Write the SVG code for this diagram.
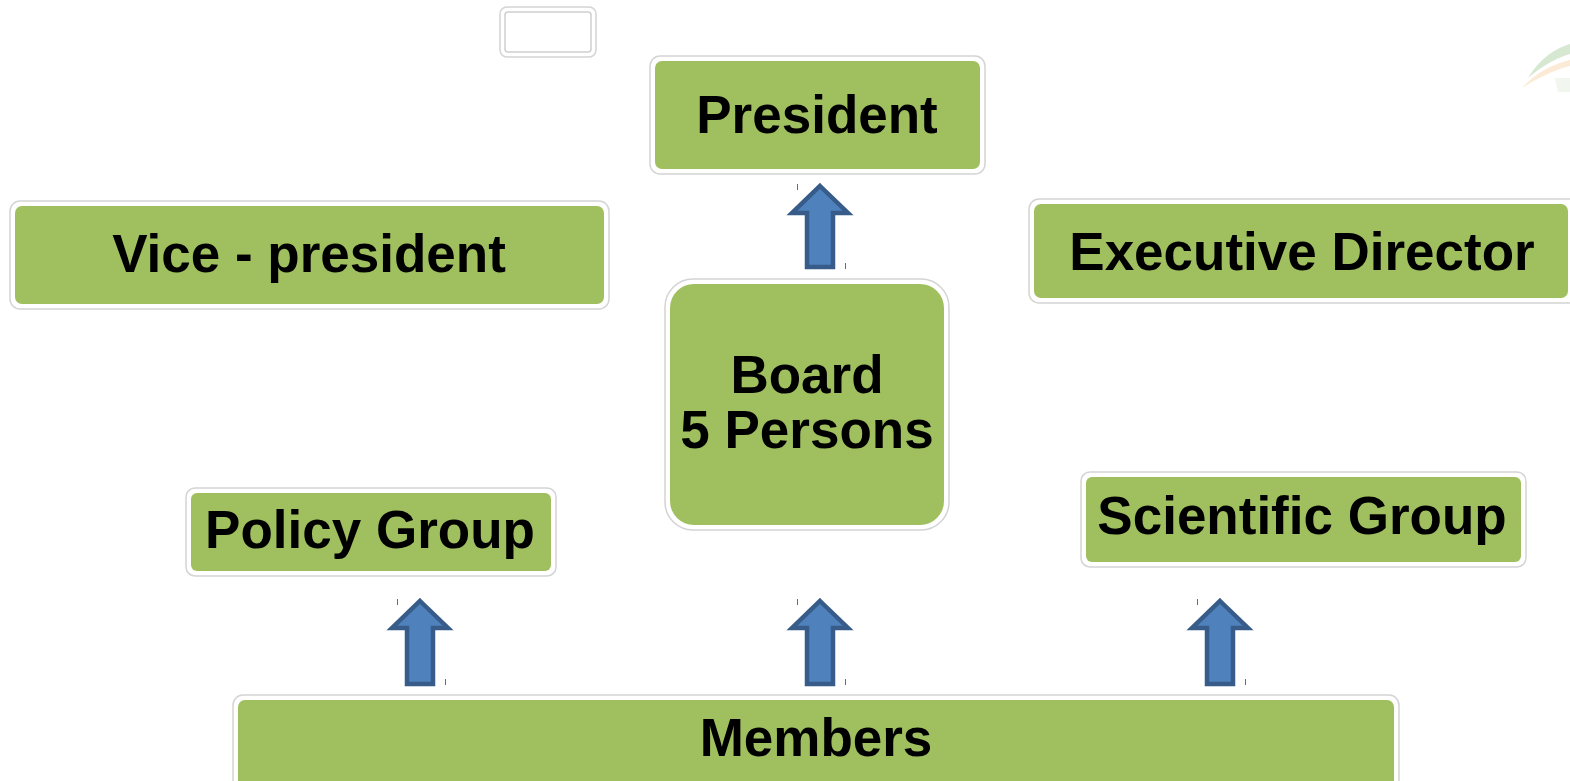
<svg xmlns="http://www.w3.org/2000/svg" width="1570" height="781" viewBox="0 0 1570 781">
<style>
.frame{fill:#ffffff;stroke:#d4d4d4;stroke-width:1.5}
.box{fill:#A0BF5E}
.lbl{font-family:"Liberation Sans",Arial,sans-serif;font-weight:bold;font-size:53px;fill:#000;text-anchor:middle}
.arrow{fill:#4F81BD;stroke:#375C89;stroke-width:4.5;stroke-linejoin:miter}
.tick{stroke:#5a6f86;stroke-width:1}
</style>
<rect width="1570" height="781" fill="#ffffff"/>
<g id="logo" opacity="0.35">
<path d="M1528,78 C1540,58 1556,48 1570,44 L1570,54 C1556,58 1542,66 1528,78 Z" fill="#8fbf7f"/>
<path d="M1522,88 C1536,72 1554,64 1570,60 L1570,66 C1554,70 1538,78 1522,88 Z" fill="#f6c68a"/>
<path d="M1555,78 L1570,78 L1570,92 L1558,92 Z" fill="#d9ead0"/>
</g>
<g id="blank-box">
<rect class="frame" x="500" y="7" width="96" height="50" rx="7"/>
<rect x="505" y="12" width="86" height="40" rx="3" fill="#fff" stroke="#cfcfcf" stroke-width="1.5"/>
</g>
<g id="president">
<rect class="frame" x="650" y="56" width="335" height="118" rx="10"/>
<rect class="box" x="655" y="61" width="325" height="108" rx="7"/>
<text class="lbl" x="817" y="133">President</text>
</g>
<g id="vice-president">
<rect class="frame" x="10" y="201" width="599" height="108" rx="10"/>
<rect class="box" x="15" y="206" width="589" height="98" rx="7"/>
<text class="lbl" x="309" y="272">Vice - president</text>
</g>
<g id="executive-director">
<rect class="frame" x="1029" y="199" width="550" height="104" rx="10"/>
<rect class="box" x="1034" y="204" width="534" height="94" rx="7"/>
<text class="lbl" x="1302" y="270">Executive Director</text>
</g>
<g id="board">
<rect class="frame" x="665" y="279" width="284" height="251" rx="28"/>
<rect class="box" x="670" y="284" width="274" height="241" rx="24"/>
<text class="lbl" x="807" y="393">Board</text>
<text class="lbl" x="807" y="448">5 Persons</text>
</g>
<g id="policy-group">
<rect class="frame" x="186" y="488" width="370" height="88" rx="9"/>
<rect class="box" x="191" y="493" width="360" height="78" rx="6"/>
<text class="lbl" x="370" y="548">Policy Group</text>
</g>
<g id="scientific-group">
<rect class="frame" x="1081" y="472" width="445" height="95" rx="9"/>
<rect class="box" x="1086" y="477" width="435" height="85" rx="6"/>
<text class="lbl" x="1302" y="534">Scientific Group</text>
</g>
<g id="members">
<rect class="frame" x="233" y="695" width="1166" height="100" rx="10"/>
<rect class="box" x="238" y="700" width="1156" height="90" rx="7"/>
<text class="lbl" x="816" y="756">Members</text>
</g>
<g id="connectors">
<path class="arrow" d="M820,186 L848,213 L833,213 L833,267 L807,267 L807,213 L792,213 Z"/>
<path class="arrow" d="M420,601 L448,628 L433,628 L433,684 L407,684 L407,628 L392,628 Z"/>
<path class="arrow" d="M820,601 L848,628 L833,628 L833,684 L807,684 L807,628 L792,628 Z"/>
<path class="arrow" d="M1220,601 L1248,628 L1233,628 L1233,684 L1207,684 L1207,628 L1192,628 Z"/>
<line class="tick" x1="797.5" y1="184" x2="797.5" y2="190"/>
<line class="tick" x1="845.5" y1="263" x2="845.5" y2="269"/>
<line class="tick" x1="397.5" y1="599" x2="397.5" y2="605"/>
<line class="tick" x1="445.5" y1="679" x2="445.5" y2="685"/>
<line class="tick" x1="797.5" y1="599" x2="797.5" y2="605"/>
<line class="tick" x1="845.5" y1="679" x2="845.5" y2="685"/>
<line class="tick" x1="1197.5" y1="599" x2="1197.5" y2="605"/>
<line class="tick" x1="1245.5" y1="679" x2="1245.5" y2="685"/>
</g>
</svg>
